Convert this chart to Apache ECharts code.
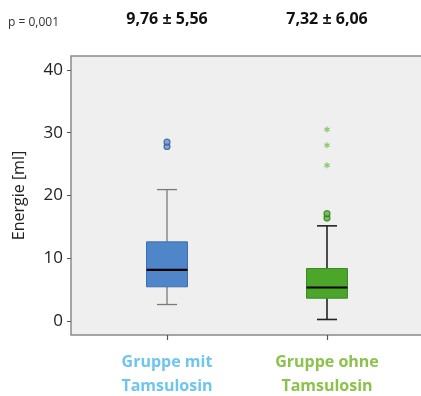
<!DOCTYPE html>
<html>
<head>
<meta charset="utf-8">
<script src="https://cdn.jsdelivr.net/npm/echarts@6/dist/echarts.min.js"></script>
<style>html,body{margin:0;padding:0;background:#fff;}#c{width:421px;height:396px;}</style>
</head>
<body>
<div id="c"></div>
<script>
// ---- data ----
const categories = ['Gruppe mit\nTamsulosin', 'Gruppe ohne\nTamsulosin'];
const boxMin    = [2.65, 0.27];
const boxQ1     = [5.47, 3.66];
const boxMedian = [8.17, 5.36];
const boxQ3     = [12.62, 8.38];
const boxMax    = [20.94, 15.17];
const outliersMit   = [27.8, 28.5];
const outliersOhne  = [16.4, 17.1];
const extremesOhne  = [24.8, 28.0, 30.5];
const yTicks = [0, 10, 20, 30, 40];
const meanSd = ['9,76 ± 5,56', '7,32 ± 6,06'];
const pText = 'p = 0,001';
const yName = 'Energie [ml]';

// ---- styles ----
const boxFill   = ['#4f86c9', '#4ba62a'];
const boxStroke = ['#3d6dab', '#3a8a20'];
const whiskerColor = ['#7a7a7a', '#222222'];
const whiskerWidth = [1.3, 1.6];
const labelColors = ['#6ec6ef', '#8bc34a'];
const FONT = 'Open Sans';

const boxData = categories.map((c, i) => [i, boxMin[i], boxQ1[i], boxMedian[i], boxQ3[i], boxMax[i]]);

function renderBox(params, api) {
  const i = api.value(0);
  const band = api.size([1, 0])[0];
  const bw = band * 0.256, cw = band * 0.125;
  const pMin = api.coord([i, api.value(1)]);
  const pQ1 = api.coord([i, api.value(2)]);
  const pMed = api.coord([i, api.value(3)]);
  const pQ3 = api.coord([i, api.value(4)]);
  const pMax = api.coord([i, api.value(5)]);
  const x = pMed[0];
  const wl = {stroke: whiskerColor[i], lineWidth: whiskerWidth[i]};
  return {
    type: 'group',
    children: [
      {type: 'line', shape: {x1: x, y1: pMin[1], x2: x, y2: pQ1[1]}, style: wl},
      {type: 'line', shape: {x1: x, y1: pQ3[1], x2: x, y2: pMax[1]}, style: wl},
      {type: 'line', shape: {x1: x - cw/2, y1: pMin[1], x2: x + cw/2, y2: pMin[1]}, style: wl},
      {type: 'line', shape: {x1: x - cw/2, y1: pMax[1], x2: x + cw/2, y2: pMax[1]}, style: wl},
      {type: 'rect', shape: {x: x - bw/2, y: pQ3[1], width: bw, height: pQ1[1] - pQ3[1]},
        style: {fill: boxFill[i], stroke: boxStroke[i], lineWidth: 1}},
      {type: 'line', shape: {x1: x - bw/2, y1: pMed[1], x2: x + bw/2, y2: pMed[1]},
        style: {stroke: '#000', lineWidth: 2.2}}
    ]
  };
}

const starPath = 'path://M4,0 L6,0 L6,3.3 L9,1.6 L10,3.3 L7,5 L10,6.7 L9,8.4 L6,6.7 L6,10 L4,10 L4,6.7 L1,8.4 L0,6.7 L3,5 L0,3.3 L1,1.6 L4,3.3 Z';

const chart = echarts.init(document.getElementById('c'), null, {renderer: 'canvas'});
chart.setOption({
  animation: false,
  textStyle: {fontFamily: FONT},
  grid: [
    {left: 71, width: 354, top: 56, bottom: 61, show: true, backgroundColor: '#efefef',
      borderColor: '#8a8a8a', borderWidth: 1.5, outerBoundsMode: 'none', containLabel: false},
    {left: 87, width: 320, top: 56, bottom: 61, outerBoundsMode: 'none', containLabel: false}
  ],
  xAxis: [
    {gridIndex: 0, type: 'value', min: 0, max: 1, show: false},
    {gridIndex: 1, type: 'category', data: categories, boundaryGap: true, position: 'bottom',
      axisLine: {show: false, onZero: false},
      axisTick: {show: true, alignWithLabel: true, length: 5, lineStyle: {color: '#555', width: 1.2}},
      axisLabel: {
        margin: 15, interval: 0,
        formatter: function (v, idx) { return '{c' + idx + '|' + v.split('\n').join('}\n{c' + idx + '|') + '}'; },
        rich: {
          c0: {color: labelColors[0], fontWeight: 'bold', fontSize: 16, lineHeight: 24, fontFamily: FONT},
          c1: {color: labelColors[1], fontWeight: 'bold', fontSize: 16, lineHeight: 24, fontFamily: FONT}
        }
      }
    }
  ],
  yAxis: [
    {gridIndex: 0, type: 'value', min: -2.2, max: 42.2,
      name: yName, nameLocation: 'middle', nameGap: 44,
      nameTextStyle: {fontSize: 16, color: '#222', fontFamily: FONT},
      axisLine: {show: false},
      axisTick: {show: true, length: 4, customValues: yTicks, lineStyle: {color: '#555'}},
      axisLabel: {show: true, customValues: yTicks, fontSize: 17, color: '#222', margin: 8, fontFamily: FONT},
      splitLine: {show: false}
    },
    {gridIndex: 1, type: 'value', min: -2.2, max: 42.2, show: false, splitLine: {show: false}}
  ],
  series: [
    {type: 'custom', xAxisIndex: 1, yAxisIndex: 1, renderItem: renderBox,
      encode: {x: 0, y: [1, 2, 3, 4, 5]}, data: boxData, z: 3},
    {type: 'scatter', xAxisIndex: 1, yAxisIndex: 1, symbol: 'circle', symbolSize: 6,
      itemStyle: {color: '#6a95d2', borderColor: '#2f5a96', borderWidth: 1.2},
      data: outliersMit.map(v => [0, v]), z: 4},
    {type: 'scatter', xAxisIndex: 1, yAxisIndex: 1, symbol: 'circle', symbolSize: 6,
      itemStyle: {color: '#5db23a', borderColor: '#2d7a1a', borderWidth: 1.2},
      data: outliersOhne.map(v => [1, v]), z: 4},
    {type: 'scatter', xAxisIndex: 1, yAxisIndex: 1, symbol: starPath, symbolSize: 6,
      itemStyle: {color: '#6cc04a'},
      data: extremesOhne.map(v => [1, v]), z: 4}
  ],
  graphic: [
    {type: 'text', left: 8, top: 17, style: {text: pText, fontSize: 12, fill: '#333', fontFamily: FONT}},
    {type: 'text', x: 167, y: 19, style: {text: meanSd[0], fontSize: 16, fontWeight: 'bold', fill: '#111',
      align: 'center', verticalAlign: 'middle', fontFamily: FONT}},
    {type: 'text', x: 327, y: 19, style: {text: meanSd[1], fontSize: 16, fontWeight: 'bold', fill: '#111',
      align: 'center', verticalAlign: 'middle', fontFamily: FONT}}
  ]
});
</script>
</body>
</html>
